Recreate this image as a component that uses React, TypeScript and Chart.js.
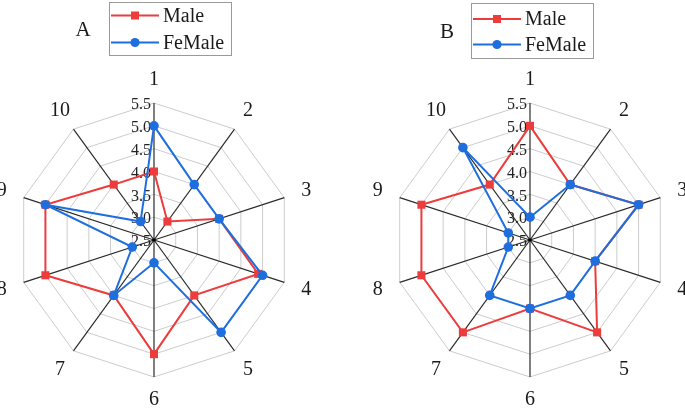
import React, { useEffect, useRef } from "react";
import { Chart, registerables } from "chart.js";

Chart.register(...registerables);

const axisLabels = ["1", "2", "3", "4", "5", "6", "7", "8", "9", "10"];
const maleA = [4.0, 3.0, 4.0, 4.9, 4.0, 5.0, 4.0, 5.0, 5.0, 4.0];
const femaleA = [5.0, 4.0, 4.0, 5.0, 5.0, 3.0, 4.0, 3.0, 5.0, 3.0];
const maleB = [5.0, 4.0, 5.0, 4.0, 5.0, 4.0, 5.0, 5.0, 5.0, 4.0];
const femaleB = [3.0, 4.0, 5.0, 4.0, 4.0, 4.0, 4.0, 3.0, 3.0, 5.0];
const seriesNames = ["Male", "FeMale"];
const scaleMin = 2.5;
const scaleMax = 5.5;
const scaleStep = 0.5;

const RED = "rgb(236,60,60)";
const BLUE = "rgb(30,110,222)";
const FONT = "'Liberation Serif', 'Times New Roman', serif";

type PanelCfg = {
  letter: string;
  male: number[];
  female: number[];
  cx: number;
  cy: number;
  R: number;
  letterPos: [number, number];
  legendBox: [number, number, number, number];
  rows: [number, number];
  lineX: [number, number];
  textX: number;
};

const panels: PanelCfg[] = [
  {
    letter: "A",
    male: maleA,
    female: femaleA,
    cx: 154,
    cy: 240,
    R: 137,
    letterPos: [83, 30],
    legendBox: [109.5, 2.5, 122, 53],
    rows: [15.5, 42.5],
    lineX: [111, 159],
    textX: 163,
  },
  {
    letter: "B",
    male: maleB,
    female: femaleB,
    cx: 530,
    cy: 240,
    R: 137,
    letterPos: [447, 32],
    legendBox: [471.5, 3.5, 122, 55],
    rows: [19, 44.5],
    lineX: [473, 521],
    textX: 525,
  },
];

function drawMarker(ctx: CanvasRenderingContext2D, kind: string, x: number, y: number, color: string) {
  ctx.fillStyle = color;
  if (kind === "rect") {
    ctx.fillRect(x - 4, y - 4, 8, 8);
  } else {
    ctx.beginPath();
    ctx.arc(x, y, 4.6, 0, Math.PI * 2);
    ctx.fill();
  }
}

function makePlugin(p: PanelCfg) {
  return {
    id: "panelDecor" + p.letter,
    beforeDatasetsDraw(chart: any) {
      const s = chart.scales.r;
      const ctx: CanvasRenderingContext2D = chart.ctx;
      ctx.save();
      ctx.font = `16px ${FONT}`;
      ctx.fillStyle = "#222";
      ctx.textAlign = "right";
      ctx.textBaseline = "middle";
      s.ticks.forEach((t: any) => {
        const d = s.getDistanceFromCenterForValue(t.value);
        ctx.fillText(Number(t.value).toFixed(1), s.xCenter - 3, s.yCenter - d + 2);
      });
      ctx.beginPath();
      ctx.arc(s.xCenter, s.yCenter, 1.8, 0, Math.PI * 2);
      ctx.fillStyle = "#000";
      ctx.fill();
      ctx.restore();
    },
    afterDraw(chart: any) {
      const s = chart.scales.r;
      const ctx: CanvasRenderingContext2D = chart.ctx;
      ctx.save();
      // point labels
      ctx.font = `20px ${FONT}`;
      ctx.fillStyle = "#1a1a1a";
      ctx.textAlign = "center";
      ctx.textBaseline = "middle";
      chart.data.labels.forEach((lab: string, i: number) => {
        const pos = s.getPointPosition(i, s.drawingArea + 23);
        ctx.fillText(lab, pos.x, pos.y);
      });
      // panel letter
      ctx.font = `21px ${FONT}`;
      ctx.fillText(p.letter, p.letterPos[0], p.letterPos[1]);
      // legend
      const [bx, by, bw, bh] = p.legendBox;
      ctx.strokeStyle = "#999";
      ctx.lineWidth = 1;
      ctx.strokeRect(bx, by, bw, bh);
      const colors = [RED, BLUE];
      const kinds = ["rect", "circle"];
      ctx.font = `20px ${FONT}`;
      ctx.textAlign = "left";
      seriesNames.forEach((name, i) => {
        const y = p.rows[i];
        ctx.strokeStyle = colors[i];
        ctx.lineWidth = 2;
        ctx.beginPath();
        ctx.moveTo(p.lineX[0], y);
        ctx.lineTo(p.lineX[1], y);
        ctx.stroke();
        drawMarker(ctx, kinds[i], (p.lineX[0] + p.lineX[1]) / 2, y, colors[i]);
        ctx.fillStyle = "#1a1a1a";
        ctx.fillText(name, p.textX, y + 1);
      });
      ctx.restore();
    },
  };
}

function RadarPanel({ p }: { p: PanelCfg }) {
  const ref = useRef<HTMLCanvasElement | null>(null);
  useEffect(() => {
    if (!ref.current) return;
    const chart = new Chart(ref.current, {
      type: "radar",
      data: {
        labels: axisLabels,
        datasets: [
          {
            label: seriesNames[0],
            data: p.male,
            borderColor: RED,
            backgroundColor: RED,
            pointBackgroundColor: RED,
            pointBorderColor: RED,
            pointBorderWidth: 0,
            pointStyle: "rect",
            pointRadius: 5.7,
            borderWidth: 2,
            fill: false,
            tension: 0,
            order: 2,
          },
          {
            label: seriesNames[1],
            data: p.female,
            borderColor: BLUE,
            backgroundColor: BLUE,
            pointBackgroundColor: BLUE,
            pointBorderColor: BLUE,
            pointBorderWidth: 0,
            pointStyle: "circle",
            pointRadius: 4.8,
            borderWidth: 2,
            fill: false,
            tension: 0,
            order: 1,
          },
        ],
      },
      options: {
        responsive: false,
        animation: false,
        events: [],
        plugins: { legend: { display: false }, tooltip: { enabled: false } },
        scales: {
          r: {
            min: scaleMin,
            max: scaleMax,
            beginAtZero: false,
            ticks: { display: false, stepSize: scaleStep },
            pointLabels: { display: false },
            grid: { color: "#cccccc", lineWidth: 1 },
            angleLines: { color: "#2a2a2a", lineWidth: 1.2 },
            afterFit: (s: any) => {
              s.xCenter = p.cx;
              s.yCenter = p.cy;
              s.drawingArea = p.R;
            },
          } as any,
        },
      },
      plugins: [makePlugin(p)],
    });
    return () => chart.destroy();
  }, [p]);
  return (
    <canvas
      ref={ref}
      width={685}
      height={411}
      style={{ position: "absolute", left: 0, top: 0, width: 685, height: 411 }}
    />
  );
}

export default function App() {
  return (
    <div style={{ position: "absolute", left: 0, top: 0, width: 685, height: 411, background: "#fff" }}>
      {panels.map((p) => (
        <RadarPanel key={p.letter} p={p} />
      ))}
    </div>
  );
}
